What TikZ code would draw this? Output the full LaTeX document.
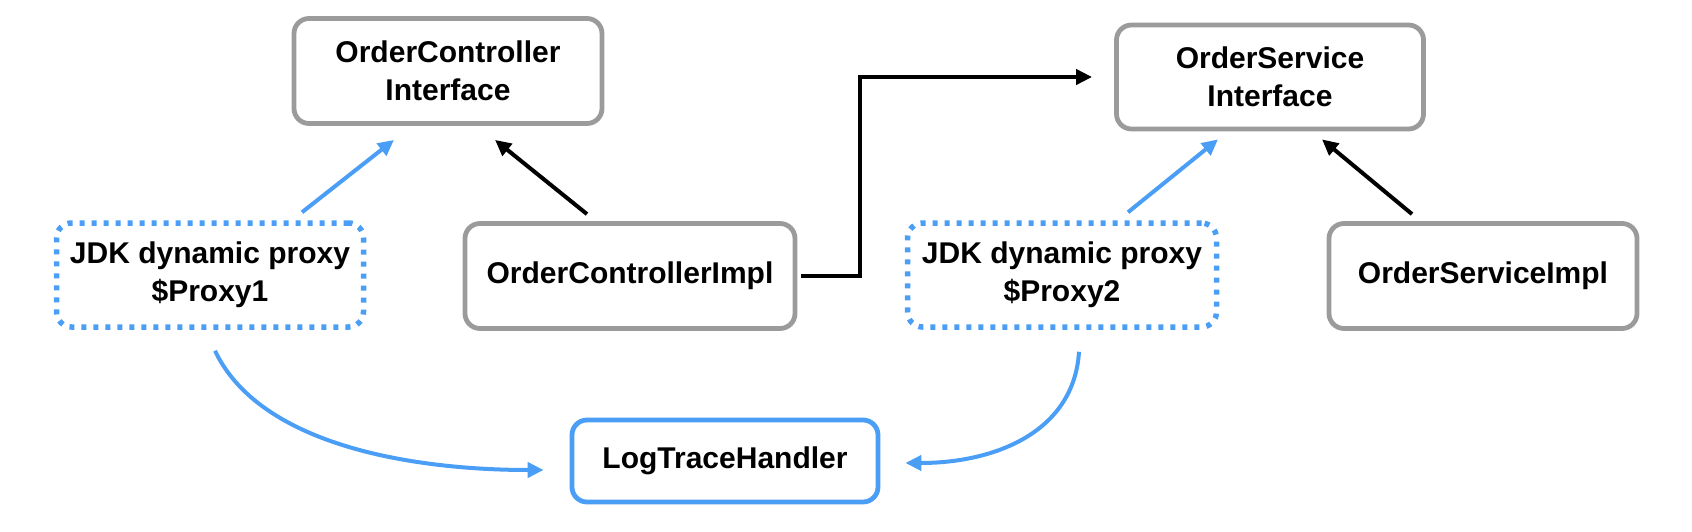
\documentclass[tikz,border=0pt]{standalone}
\usepackage{fontspec}
\setmainfont{Liberation Sans}
\usetikzlibrary{arrows.meta}
\definecolor{proxyblue}{RGB}{74,158,245}
\definecolor{boxgray}{RGB}{155,155,155}
\begin{document}
\begin{tikzpicture}[
      x=1pt, y=-1pt,
      font=\fontsize{30}{38}\selectfont\bfseries,
      box/.style={draw=boxgray, line width=4.8pt, rounded corners=15pt, align=center},
      proxybox/.style={draw=proxyblue, line width=5.5pt, rounded corners=15pt, align=center,
        dash pattern=on 5pt off 7pt},
      handlerbox/.style={box, draw=proxyblue},
      arr/.style={-{Triangle[length=16pt,width=15pt]}, line width=4pt},
      blarr/.style={arr, draw=proxyblue, fill=proxyblue},
    ]
      \useasboundingbox (0,0) rectangle (1692,532);

      % interfaces
      \node[box, minimum width=308pt, minimum height=105pt] (oci) at (448,71) {OrderController\\Interface};
      \node[box, minimum width=307pt, minimum height=104pt] (osi) at (1270,77) {OrderService\\Interface};

      % proxies and implementations
      \node[proxybox, minimum width=307pt, minimum height=104pt] (proxy1) at (210,275) {JDK dynamic proxy\\\$Proxy1};
      \node[box, minimum width=330pt, minimum height=105pt] (ocimpl) at (630,276) {OrderControllerImpl};
      \node[proxybox, minimum width=309pt, minimum height=104pt] (proxy2) at (1062,275) {JDK dynamic proxy\\\$Proxy2};
      \node[box, minimum width=308pt, minimum height=105pt] (osimpl) at (1483,276) {OrderServiceImpl};

      % handler
      \node[handlerbox, minimum width=306pt, minimum height=82pt] (lth) at (725,461) {LogTraceHandler};

      \draw[blarr] ([xshift=92pt,yshift=8pt]proxy1.north) -- ([xshift=-54pt,yshift=-14pt]oci.south);
      \draw[arr] ([xshift=-43pt,yshift=7pt]ocimpl.north) -- ([xshift=47pt,yshift=-14pt]oci.south);
      \draw[blarr] ([xshift=66pt,yshift=8pt]proxy2.north) -- ([xshift=-52pt,yshift=-8pt]osi.south);
      \draw[arr] ([xshift=-71pt,yshift=7pt]osimpl.north) -- ([xshift=52pt,yshift=-8pt]osi.south);

      % impl -> service interface
      \draw[arr] ([xshift=4pt]ocimpl.east) -- ++(59,0) |- ([xshift=-22pt]osi.west);

      % proxies -> handler
      \draw[blarr, fill=none] ([xshift=5pt,yshift=-21pt]proxy1.south) .. controls +(45,95) and +(-130,0) .. ([xshift=-26pt,yshift=-9pt]lth.west);
      \draw[blarr, fill=none] ([xshift=17pt,yshift=-22pt]proxy2.south) .. controls +(-5,80) and +(90,0) .. ([xshift=25pt,yshift=-2pt]lth.east);

    \end{tikzpicture}
\end{document}
